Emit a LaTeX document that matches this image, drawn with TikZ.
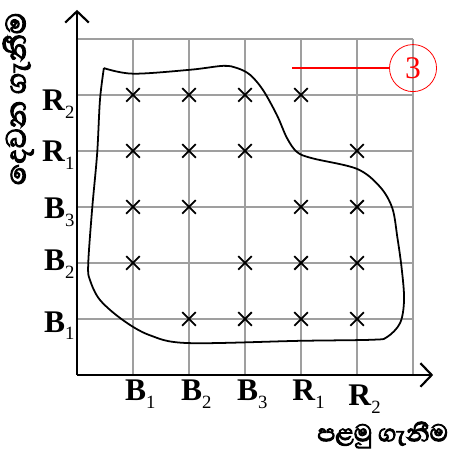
\documentclass[tikz,border=0pt]{standalone}
\usepackage{fontspec}
\setmainfont{Liberation Serif}
\newfontfamily\sinhala[Script=Sinhala,FakeBold=3.5]{Abhaya Libre}
\usetikzlibrary{arrows.meta,shapes.misc}
\newcommand{\lbl}[2]{\textbf{#1}\raisebox{-0.55ex}{\fontsize{9.5}{9.5}\selectfont #2}}
\tikzset{crs/.style={cross out,draw,line width=0.9pt,minimum size=0.21cm,inner sep=0pt},
lab/.style={font=\fontsize{16}{18}\selectfont,inner sep=0pt}}

\begin{document}
\begin{tikzpicture}
\useasboundingbox (-1.375,-1.339) rectangle (6.946,6.696);
%grid
\draw[gray!75,line width=0.6pt] (0,0) grid (6,6);
\draw[line width=1.1pt,-{Straight Barb[length=2mm,width=4.2mm]}] (0,0) to (6.36,0);
\draw[line width=1.1pt,-{Straight Barb[length=2mm,width=4.2mm]}] (0,0) to (0,6.52);

%axis labels
\node[lab,anchor=east] (r2) at (-0.04,4.84) {\lbl{R}{2}};
\node[lab,anchor=east] (r1) at (-0.04,3.93) {\lbl{R}{1}};
\node[lab,anchor=east] (b3) at (-0.04,2.91) {\lbl{B}{3}};
\node[lab,anchor=east] (b2) at (-0.04,1.98) {\lbl{B}{2}};
\node[lab,anchor=east] (b1) at (-0.04,0.88) {\lbl{B}{1}};

\node[lab,anchor=west] (xb1) at (0.85,-0.34) {\lbl{B}{1}};
\node[lab,anchor=west] (xb2) at (1.85,-0.34) {\lbl{B}{2}};
\node[lab,anchor=west] (xb3) at (2.85,-0.34) {\lbl{B}{3}};
\node[lab,anchor=west] (xr1) at (3.84,-0.34) {\lbl{R}{1}};
\node[lab,anchor=west] (xr2) at (4.84,-0.44) {\lbl{R}{2}};

\node[rotate=90,font=\sinhala\fontsize{18}{20}\selectfont] (ylab) at (-1.05,4.93) {දෙවන ගැනීම};
\node[font=\sinhala\fontsize{15.5}{18}\selectfont] (xlab) at (5.46,-1.07) {පළමු ගැනීම};

%crosses
\node[crs] (a1) at (1,5) {};\node[crs] (a2) at (2,5) {};\node[crs] (a3) at (3,5) {};\node[crs] (a4) at (4,5) {};
\node[crs] (b1x) at (1,4) {};\node[crs] (b2x) at (2,4) {};\node[crs] (b3x) at (3,4) {};\node[crs] (b5x) at (5,4) {};
\node[crs] (c1) at (1,3) {};\node[crs] (c2) at (2,3) {};\node[crs] (c4) at (4,3) {};\node[crs] (c5) at (5,3) {};
\node[crs] (d1) at (1,2) {};\node[crs] (d3) at (3,2) {};\node[crs] (d4) at (4,2) {};\node[crs] (d5) at (5,2) {};
\node[crs] (e2) at (2,1) {};\node[crs] (e3) at (3,1) {};\node[crs] (e4) at (4,1) {};\node[crs] (e5) at (5,1) {};

%event boundary
\draw[line width=0.9pt] plot[smooth,tension=0.55] coordinates {(0.48,5.48) (1.0,5.38) (2.02,5.45) (2.61,5.52) (2.86,5.48) (3.09,5.36) (3.32,5.09) (3.57,4.64) (3.75,4.23) (3.93,3.98) (4.2,3.87) (5.0,3.68) (5.41,3.36) (5.63,2.98) (5.72,2.46) (5.80,1.88) (5.84,1.34) (5.77,0.93) (5.54,0.68) (5.29,0.63) (3.98,0.61) (1.98,0.57) (1.30,0.71) (0.82,0.98) (0.41,1.34) (0.23,1.70) (0.20,1.98) (0.27,2.96) (0.36,3.96) (0.41,4.91) (0.48,5.48)};

%callout
\node[circle,draw=red,text=red,minimum size=0.84cm,inner sep=0pt,font=\fontsize{16}{18}\selectfont] (three) at (6.0,5.48) {3};
\coordinate (lstart) at (3.84,5.48);
\draw[red,line width=0.6pt] (lstart) to (three);
\end{tikzpicture}
\end{document}
